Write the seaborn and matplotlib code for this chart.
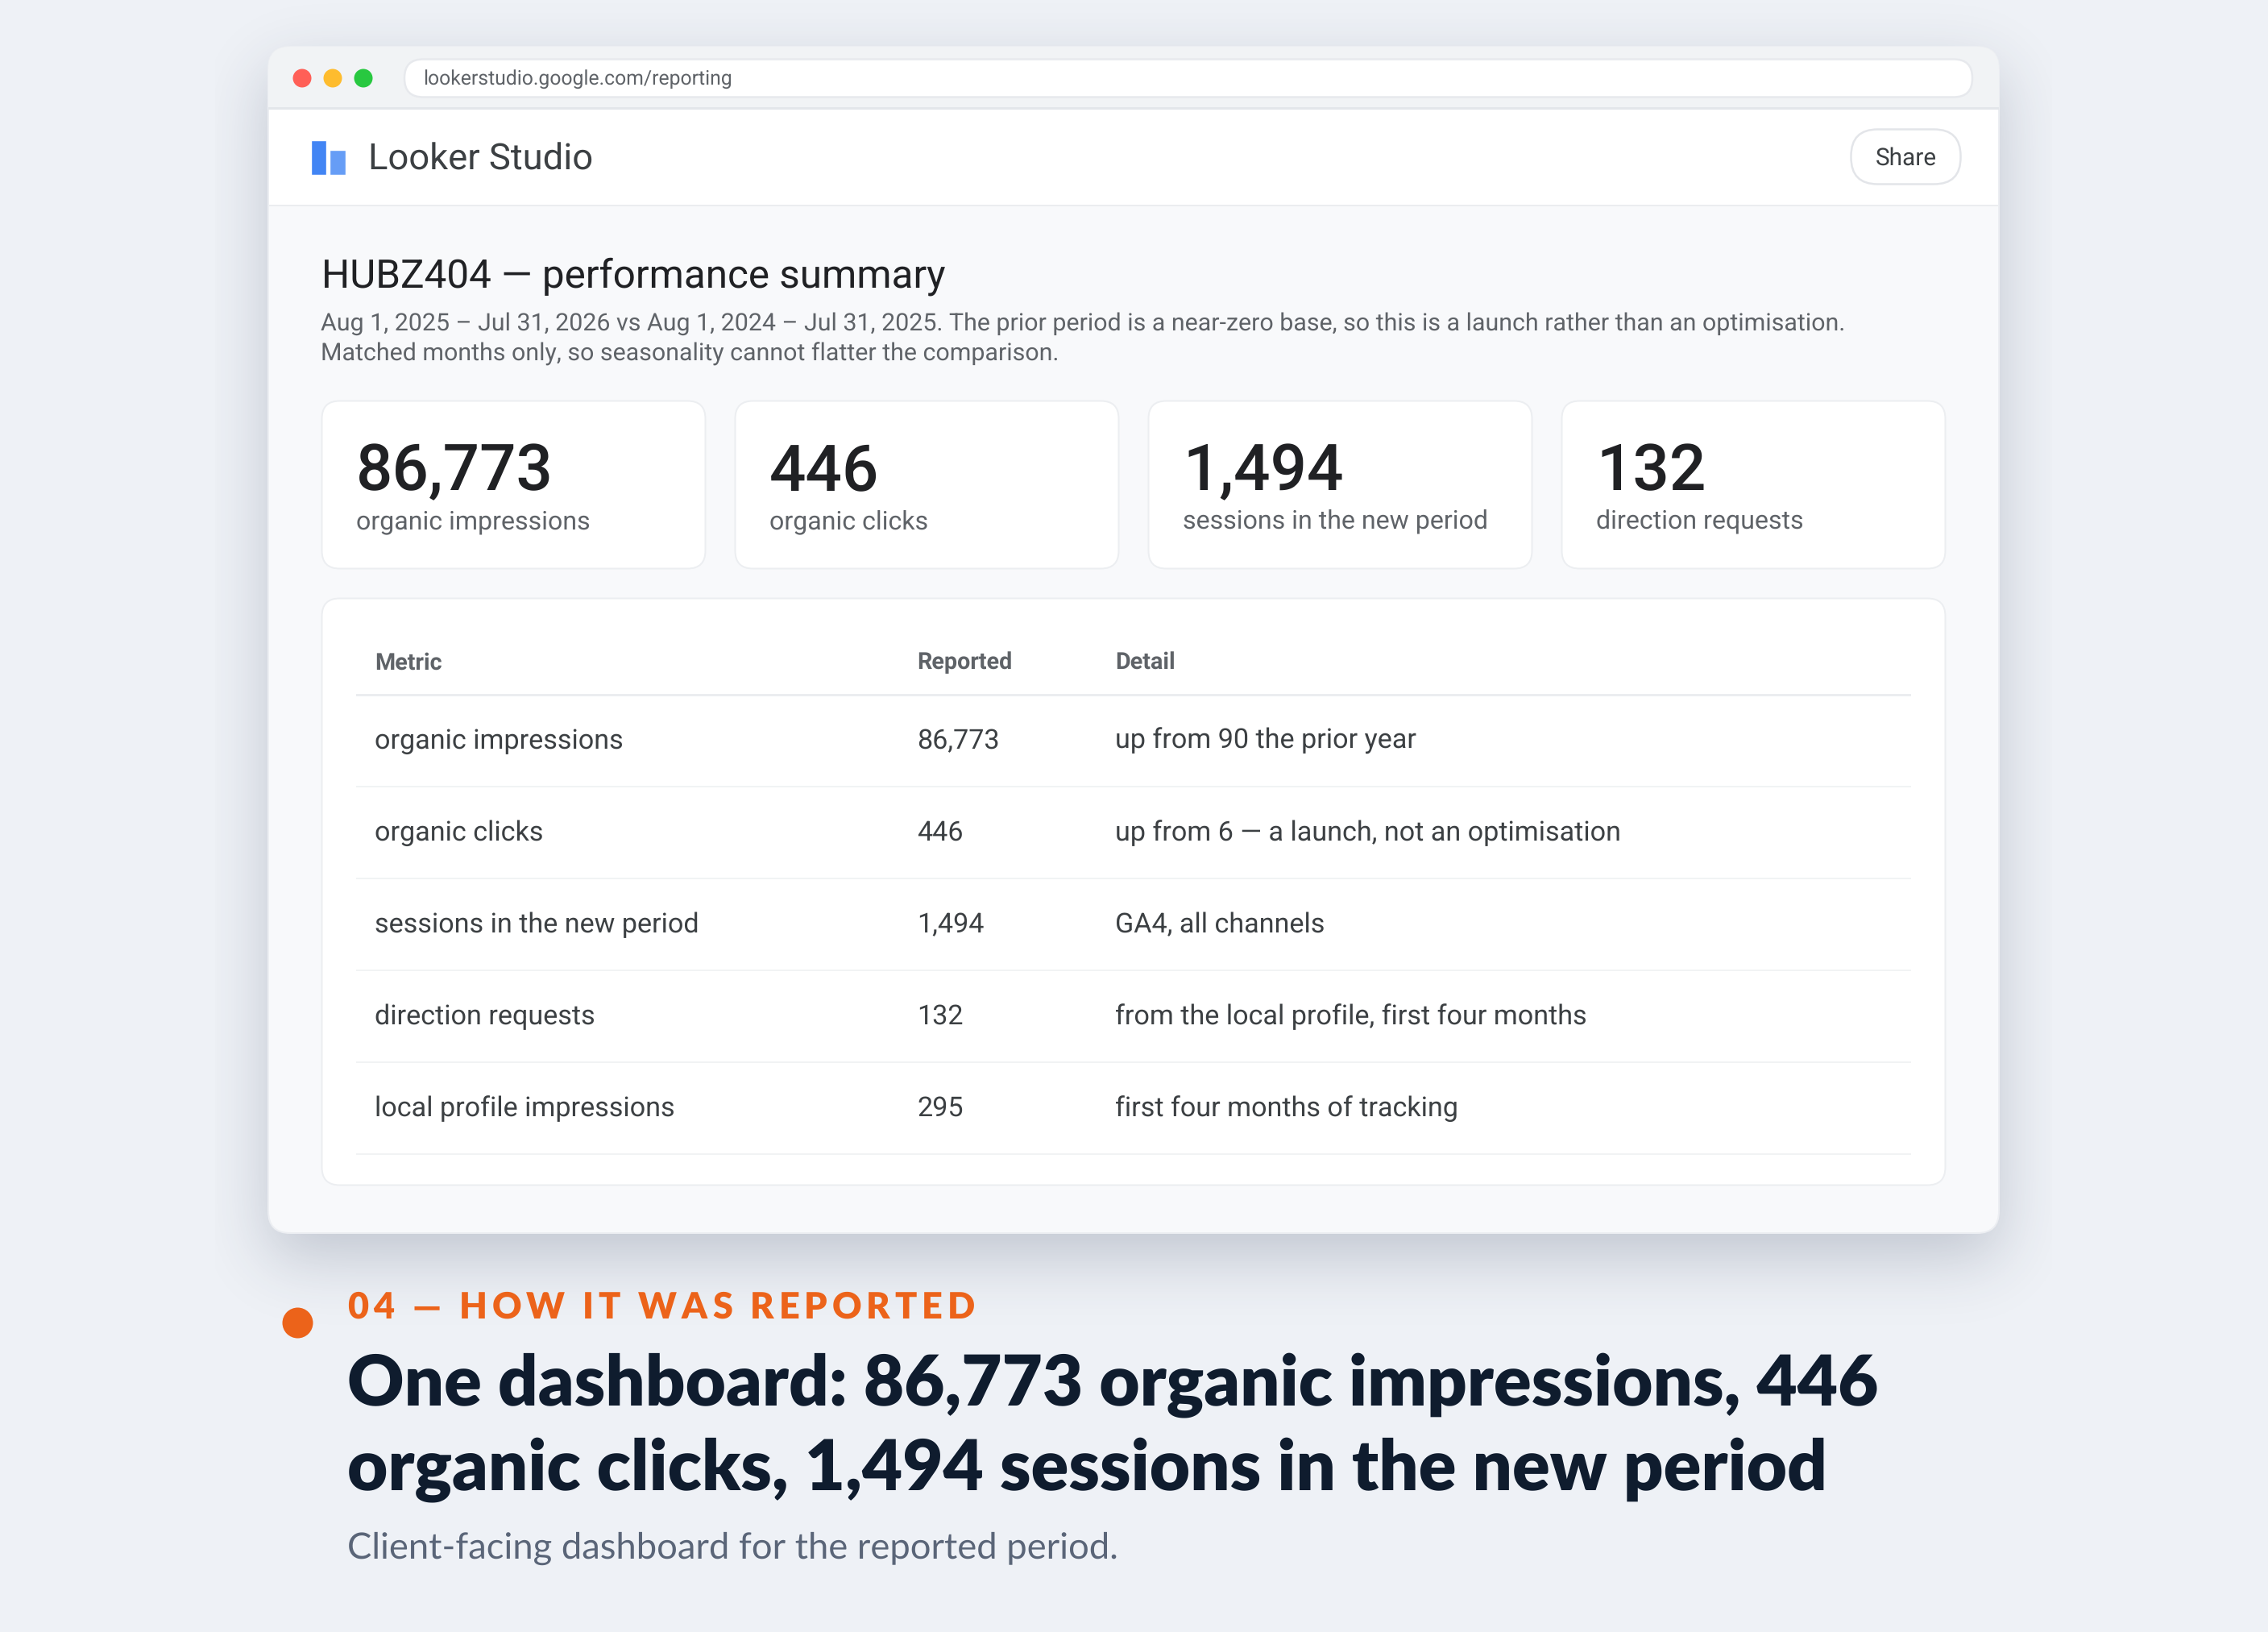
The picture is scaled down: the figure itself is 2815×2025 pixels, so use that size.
import math
import numpy as np
import pandas as pd
import seaborn as sns
import matplotlib
matplotlib.use("Agg")
import matplotlib.pyplot as plt
from matplotlib.patches import FancyBboxPatch, Rectangle

# ---- data ----
url_text = "lookerstudio.google.com/reporting"
brand = "Looker Studio"
share = "Share"
page_title = "HUBZ404 \u2014 performance summary"
page_sub = [
    "Aug 1, 2025 \u2013 Jul 31, 2026 vs Aug 1, 2024 \u2013 Jul 31, 2025. The prior period is a near-zero base, so this is a launch rather than an optimisation.",
    "Matched months only, so seasonality cannot flatter the comparison.",
]
kpi_values = ["86,773", "446", "1,494", "132"]
kpi_labels = ["organic impressions", "organic clicks", "sessions in the new period", "direction requests"]
table_head = ["Metric", "Reported", "Detail"]
metrics = ["organic impressions", "organic clicks", "sessions in the new period", "direction requests", "local profile impressions"]
reported = ["86,773", "446", "1,494", "132", "295"]
details = ["up from 90 the prior year", "up from 6 \u2014 a launch, not an optimisation", "GA4, all channels",
           "from the local profile, first four months", "first four months of tracking"]
eyebrow = "04 \u2014 HOW IT WAS REPORTED"
headline = ["One dashboard: 86,773 organic impressions, 446", "organic clicks, 1,494 sessions in the new period"]
caption = "Client-facing dashboard for the reported period."
logo_names = ["a", "b"]
logo_heights = [1.0, 0.72]
light_names = ["close", "min", "max"]
light_slots = [375, 413, 451]

W, H = 2815, 2025
BG = "#eef1f6"
sns.set_theme(style="white")
plt.rcParams["font.family"] = ["Roboto", "DejaVu Sans"]
plt.rcParams["text.hinting"] = "no_hinting"
plt.rcParams["text.hinting_factor"] = 8

fig = plt.figure(figsize=(W / 100, H / 100), dpi=100, facecolor=BG)
ax = fig.add_axes([0, 0, 1, 1])
ax.set_xlim(0, W)
ax.set_ylim(H, 0)
ax.axis("off")

PT = 0.72

def box(x0, y0, x1, y1, r, fc, ec="none", lw=0, z=2):
    if r > 0:
        p = FancyBboxPatch((x0, y0), x1 - x0, y1 - y0, boxstyle=f"round,pad=0,rounding_size={r}",
                           fc=fc, ec=ec, lw=lw * PT, zorder=z)
    else:
        p = Rectangle((x0, y0), x1 - x0, y1 - y0, fc=fc, ec=ec, lw=lw * PT, zorder=z)
    ax.add_patch(p)
    return p

def text(x, y, s, px, color, family="Roboto", weight="normal", ha="left", z=6):
    return ax.text(x, y, s, fontsize=px * PT, color=color, family=family, weight=weight,
                   ha=ha, va="baseline", zorder=z)

def spaced(x, y, s, px, color, spacing, family="Lato", weight="bold", z=6):
    rend = fig.canvas.get_renderer()
    for i, ch in enumerate(s):
        probe = ax.text(0, 0, s[:i] + "|", fontsize=px * PT, family=family, weight=weight)
        bar = ax.text(0, 0, "|", fontsize=px * PT, family=family, weight=weight)
        adv = probe.get_window_extent(rend).width - bar.get_window_extent(rend).width
        probe.remove()
        bar.remove()
        text(x + adv + spacing * i, y, ch, px, color, family, weight, z=z)

# ---- window shadow ----
WX0, WY0, WX1, WY1 = 333, 58, 2481, 1530
def edge(coords, a, b, sigma):
    f = np.vectorize(math.erf)
    return 0.5 * (f((coords - a) / (sigma * 2 ** 0.5)) - f((coords - b) / (sigma * 2 ** 0.5)))
xs = np.arange(W) + 0.5
ys = np.arange(H) + 0.5
alpha = np.outer(edge(ys, WY0 + 30, WY1 + 30, 40), edge(xs, WX0, WX1, 40)) * 0.22
alpha[:, (xs < 267) | (xs > 2547)] = 0
shadow = np.zeros((H, W, 4))
shadow[..., :3] = np.array([0x1c, 0x2a, 0x48]) / 255
shadow[..., 3] = alpha
ax.imshow(shadow, extent=(0, W, H, 0), zorder=1, interpolation="nearest", aspect="auto")
ax.set_xlim(0, W)
ax.set_ylim(H, 0)

# ---- window frame ----
box(WX0, WY0, WX1, WY1, 27, "#f8f9fb", "#eceef2", 2, z=2)
clip = FancyBboxPatch((WX0, WY0), WX1 - WX0, WY1 - WY0, boxstyle="round,pad=0,rounding_size=27",
                      transform=ax.transData, fc="none", ec="none")
ax.add_patch(clip)
top = Rectangle((WX0, WY0), WX1 - WX0, 76, fc="#f1f3f5", ec="none", zorder=3)
ax.add_patch(top)
top.set_clip_path(clip)
ax.add_patch(Rectangle((WX0, 133), WX1 - WX0, 3, fc="#e3e6ea", ec="none", zorder=4))
ax.add_patch(Rectangle((WX0 + 1, 136), WX1 - WX0 - 2, 119, fc="#ffffff", ec="none", zorder=3))
ax.add_patch(Rectangle((WX0 + 1, 254), WX1 - WX0 - 2, 2, fc="#ebedf0", ec="none", zorder=4))

# traffic lights
lights = pd.DataFrame({"name": light_names, "slot": light_slots, "row": [97, 97, 97]})
sns.scatterplot(data=lights, x="slot", y="row", hue="name", ax=ax, s=(23 * PT) ** 2, linewidth=0,
                palette=["#ff5f57", "#febc2e", "#28c840"], legend=False, zorder=5)
ax.set_xlim(0, W)
ax.set_ylim(H, 0)
ax.axis("off")

# address bar
box(502, 73.5, 2448, 120.5, 23, "#ffffff", "#e7e9ed", 2.5, z=4)
text(525, 105, url_text, 24.75, "#5f6368")

# brand logo, drawn as a small bar chart
lax = fig.add_axes([385.5 / W, 1 - 217 / H, 43.5 / W, 43 / H])
logo = pd.DataFrame({"name": logo_names, "h": logo_heights})
sns.barplot(data=logo, x="name", y="h", hue="name", palette=["#4285f4", "#669df6"], width=0.85,
            legend=False, ax=lax, saturation=1)
lax.set_xlim(-0.425, 1.425)
lax.set_ylim(0, 1)
lax.axis("off")
text(457, 211, brand, 45.4, "#3c4043")

# share
box(2297.5, 160.5, 2433.5, 228.5, 33, "#ffffff", "#e3e5e9", 2.5, z=4)
text(2366, 205, share, 29.8, "#3c4043", ha="center")

# page heading
text(399, 357, page_title, 49.4, "#202124")
text(398.5, 410, page_sub[0], 30.35, "#5f6368")
text(398.5, 447.5, page_sub[1], 30.35, "#5f6368")

# KPI cards
card_left = [399, 912, 1425, 1938]
for x0, v, l in zip(card_left, kpi_values, kpi_labels):
    box(x0 + 0.5, 497.5, x0 + 476.5, 705.5, 22, "#ffffff", "#eceef1", 2, z=3)
    text(x0 + 43, 608, v, 80, "#202124", weight="medium")
    text(x0 + 43, 656, l, 32.2, "#5f6368")

# table
box(399.5, 742.5, 2414.5, 1470.5, 22, "#ffffff", "#eceef1", 2, z=3)
cols = [465, 1138, 1384]
for c, h in zip(cols, table_head):
    text(c, 830.5, h, 28.7, "#5f6368", weight="bold")
ax.add_patch(Rectangle((442, 861), 1930, 2.5, fc="#ebedf0", ec="none", zorder=4))
for i, (m, r, d) in enumerate(zip(metrics, reported, details)):
    base = 929 + 114 * i
    text(cols[0], base, m, 34.2, "#3c4043")
    text(cols[1], base, r, 34.2, "#3c4043")
    text(cols[2], base, d, 34.2, "#3c4043")
    ax.add_patch(Rectangle((442, base + 46), 1930, 1.8, fc="#f1f3f4", ec="none", zorder=4))

# caption block
dot = pd.DataFrame({"x": [369], "y": [1641]})
sns.scatterplot(data=dot, x="x", y="y", ax=ax, s=(38 * PT) ** 2, color="#ec631a", linewidth=0, zorder=5)
ax.set_xlim(0, W)
ax.set_ylim(H, 0)
ax.axis("off")
fig.canvas.draw()
spaced(431, 1636, eyebrow, 45, "#ec631a", 5.87, weight=800)
text(431, 1743, headline[0], 86.8, "#0f1c2e", family="Lato", weight=800)
text(431, 1848.5, headline[1], 86.8, "#0f1c2e", family="Lato", weight=800)
text(431, 1934, caption, 45.4, "#5a6578", family="Lato")

fig.savefig("out.png", dpi=100, facecolor=BG)
